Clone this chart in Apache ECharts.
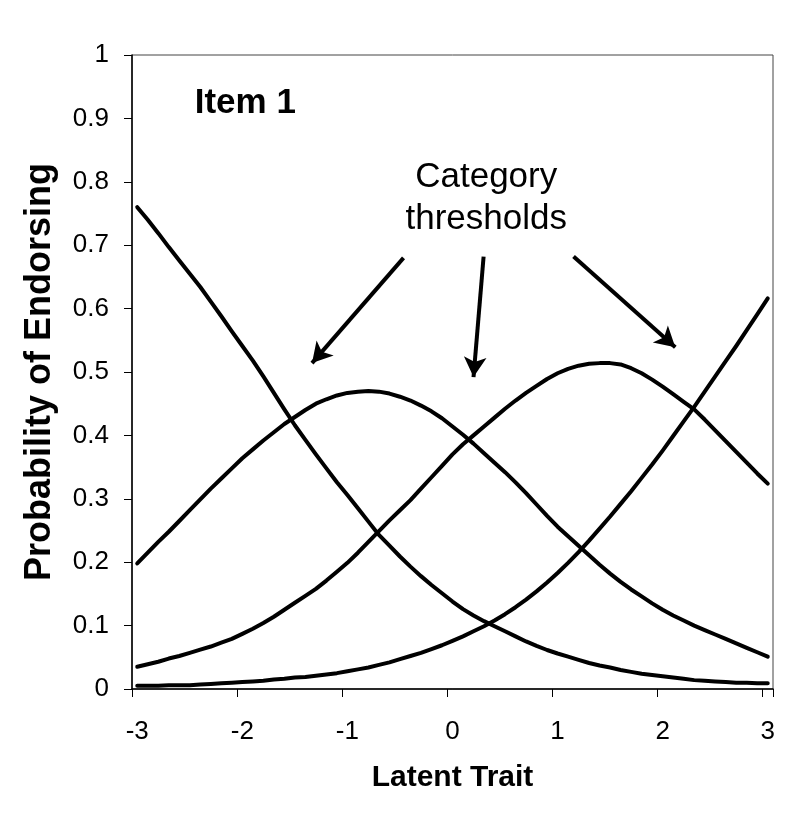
<!DOCTYPE html>
<html>
<head>
<meta charset="utf-8">
<script src="https://cdn.jsdelivr.net/npm/echarts@6/dist/echarts.min.js"></script>
<style>
html,body{margin:0;padding:0;background:#fff;}
#chart{width:788px;height:832px;}
</style>
</head>
<body>
<div id="chart"></div>
<script>
// Latent trait categories (-3 to 3 in steps of 0.1)
const traitCategories = ['-3','-2.9','-2.8','-2.7','-2.6','-2.5','-2.4','-2.3','-2.2','-2.1',
  '-2','-1.9','-1.8','-1.7','-1.6','-1.5','-1.4','-1.3','-1.2','-1.1',
  '-1','-0.9','-0.8','-0.7','-0.6','-0.5','-0.4','-0.3','-0.2','-0.1',
  '0','0.1','0.2','0.3','0.4','0.5','0.6','0.7','0.8','0.9',
  '1','1.1','1.2','1.3','1.4','1.5','1.6','1.7','1.8','1.9',
  '2','2.1','2.2','2.3','2.4','2.5','2.6','2.7','2.8','2.9','3'];

// Category response curves (probability of endorsing)
const category1 = [0.760,0.740,0.719,0.697,0.676,0.655,0.634,0.611,0.588,0.564,
  0.541,0.518,0.493,0.467,0.441,0.416,0.393,0.370,0.348,0.326,
  0.306,0.285,0.264,0.243,0.226,0.209,0.193,0.178,0.164,0.151,
  0.138,0.126,0.116,0.107,0.099,0.091,0.083,0.075,0.068,0.0615,
  0.056,0.051,0.046,0.041,0.037,0.034,0.030,0.027,0.024,0.022,
  0.020,0.018,0.016,0.014,0.013,0.012,0.011,0.010,0.010,0.009,0.009];
const category2 = [0.198,0.215,0.232,0.248,0.265,0.282,0.299,0.316,0.332,0.348,
  0.364,0.378,0.392,0.405,0.418,0.429,0.440,0.450,0.457,0.463,
  0.467,0.469,0.470,0.469,0.466,0.461,0.455,0.447,0.438,0.427,
  0.414,0.401,0.387,0.372,0.357,0.342,0.326,0.309,0.291,0.273,
  0.256,0.241,0.226,0.211,0.196,0.182,0.169,0.157,0.146,0.135,
  0.125,0.116,0.108,0.100,0.093,0.086,0.079,0.072,0.065,0.058,0.051];
const category3 = [0.035,0.039,0.043,0.048,0.052,0.057,0.062,0.067,0.073,0.079,
  0.087,0.095,0.104,0.114,0.125,0.136,0.147,0.158,0.171,0.185,
  0.199,0.215,0.232,0.249,0.266,0.282,0.298,0.316,0.334,0.352,
  0.370,0.386,0.400,0.414,0.428,0.442,0.455,0.467,0.478,0.489,
  0.498,0.505,0.510,0.513,0.514,0.514,0.512,0.506,0.498,0.488,
  0.477,0.465,0.453,0.441,0.425,0.408,0.391,0.374,0.357,0.340,0.324];
const category4 = [0.005,0.005,0.005,0.006,0.006,0.006,0.007,0.008,0.009,0.010,
  0.011,0.012,0.013,0.015,0.016,0.018,0.019,0.021,0.023,0.025,
  0.028,0.031,0.034,0.038,0.042,0.047,0.052,0.057,0.063,0.069,
  0.076,0.083,0.091,0.099,0.108,0.118,0.129,0.141,0.154,0.168,
  0.183,0.199,0.216,0.234,0.253,0.272,0.292,0.312,0.333,0.354,
  0.376,0.399,0.422,0.445,0.469,0.493,0.517,0.541,0.566,0.591,0.616];

// Annotation anchors (latent trait, probability)
const arrowStarts = [[-0.466,0.680],[0.296,0.682],[1.152,0.682]];
const arrowEnds   = [[-1.337,0.514],[0.200,0.492],[2.120,0.539]];
const annotationTexts = ['Category\nthresholds','Item 1'];
const annotationPoints = [[0.321,0.774],[-1.972,0.924]];

const FONT = '"Liberation Sans", Arial, Helvetica, sans-serif';
const chart = echarts.init(document.getElementById('chart'), null, {renderer:'canvas'});

const curveSeries = [category1, category2, category3, category4].map(function(d){
  return {
    type:'line', data:d, xAxisIndex:0, yAxisIndex:0,
    symbol:'none', smooth:false, silent:true,
    lineStyle:{color:'#000', width:4, join:'round', cap:'round'}
  };
});

const arrowStyle = {color:'#000', width:4, type:'solid', opacity:1};

const option = {
  backgroundColor:'#fff',
  animation:false,
  grid:{left:132, right:15, top:55, bottom:143, show:true, borderColor:'#444', borderWidth:1, backgroundColor:'transparent'},
  xAxis:[{
    type:'category', data:traitCategories, boundaryGap:true,
    name:'Latent Trait', nameLocation:'middle', nameGap:74,
    nameTextStyle:{fontFamily:FONT, fontWeight:'bold', fontSize:30, color:'#000'},
    axisLine:{show:true, onZero:false, lineStyle:{color:'#000', width:1.5}},
    axisTick:{show:true, interval:9, alignWithLabel:false, length:8, lineStyle:{color:'#000', width:1}},
    axisLabel:{interval:9, margin:30, fontFamily:FONT, fontSize:26, color:'#000'},
    splitLine:{show:false}
  },{
    type:'value', min:-3.05, max:3.05, show:false,
    axisLine:{show:false, onZero:false}, axisTick:{show:false}, axisLabel:{show:false}, splitLine:{show:false}
  }],
  yAxis:{
    type:'value', min:0, max:1, interval:0.1,
    name:'Probability of Endorsing', nameLocation:'middle', nameGap:74, nameRotate:90,
    nameTextStyle:{fontFamily:FONT, fontWeight:'bold', fontSize:36, color:'#000'},
    axisLine:{show:true, onZero:false, lineStyle:{color:'#000', width:1.5}},
    axisTick:{show:true, length:8, lineStyle:{color:'#000', width:1}},
    axisLabel:{margin:23, fontFamily:FONT, fontSize:26, color:'#000'},
    splitLine:{show:false}
  },
  series: curveSeries.concat([{
    type:'scatter', xAxisIndex:1, yAxisIndex:0, silent:true,
    symbolSize:1, itemStyle:{color:'rgba(0,0,0,0)', opacity:1},
    data: annotationPoints.map(function(p,i){
      return {value:p, label:{
        show:true, position:'inside', formatter:annotationTexts[i],
        fontFamily:FONT, color:'#000', opacity:1,
        fontSize:35, lineHeight:42,
        fontWeight: i===1 ? 'bold' : 'normal', align:'center', verticalAlign:'middle'
      }};
    }),
    markLine:{
      silent:true, symbol:['none','arrow'], symbolSize:[17,20],
      label:{show:false},
      lineStyle:arrowStyle,
      itemStyle:{color:'#000', opacity:1},
      emphasis:{disabled:true, lineStyle:arrowStyle},
      data: arrowStarts.map(function(s,i){
        return [{coord:s, lineStyle:arrowStyle}, {coord:arrowEnds[i], lineStyle:arrowStyle}];
      })
    }
  }])
};
chart.setOption(option);
</script>
</body>
</html>
